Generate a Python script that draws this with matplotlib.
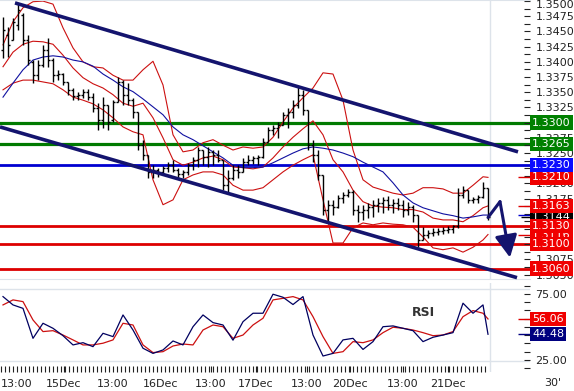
import numpy as np
import matplotlib
matplotlib.use('Agg')
import matplotlib.pyplot as plt
import matplotlib.transforms as mtransforms
from matplotlib.ticker import MultipleLocator, FormatStrFormatter, FuncFormatter

# --- precio (barras OHLC) ---
bar_high = [
    1.3474, 1.3458, 1.3472, 1.3497, 1.3481, 1.3444, 1.3403, 1.3403, 1.3428, 1.3439,
    1.3407, 1.3387, 1.3382, 1.3367, 1.3357, 1.3351, 1.3356, 1.3356, 1.3349, 1.3332,
    1.3343, 1.3329, 1.3337, 1.3375, 1.3370, 1.3365, 1.3341, 1.3318, 1.3272, 1.3247,
    1.3230, 1.3226, 1.3229, 1.3235, 1.3239, 1.3226, 1.3222, 1.3234, 1.3244, 1.3260,
    1.3255, 1.3260, 1.3255, 1.3255, 1.3239, 1.3222, 1.3230, 1.3230, 1.3242, 1.3247,
    1.3245, 1.3247, 1.3275, 1.3293, 1.3296, 1.3301, 1.3318, 1.3324, 1.3337, 1.3359,
    1.3354, 1.3321, 1.3272, 1.3255, 1.3214, 1.3173, 1.3173, 1.3181, 1.3186, 1.3191,
    1.3189, 1.3165, 1.3165, 1.3168, 1.3173, 1.3176, 1.3178, 1.3180, 1.3175, 1.3176,
    1.3173, 1.3170, 1.3165, 1.3148, 1.3129, 1.3124, 1.3127, 1.3127, 1.3129, 1.3130,
    1.3132, 1.3193, 1.3196, 1.3189, 1.3178, 1.3181, 1.3203, 1.3193]
bar_low = [
    1.3407, 1.3408, 1.3436, 1.3453, 1.3428, 1.3395, 1.3365, 1.3370, 1.3392, 1.3392,
    1.3367, 1.3370, 1.3362, 1.3346, 1.3337, 1.3337, 1.3341, 1.3337, 1.3318, 1.3288,
    1.3291, 1.3288, 1.3301, 1.3334, 1.3329, 1.3329, 1.3308, 1.3255, 1.3239, 1.3209,
    1.3209, 1.3211, 1.3214, 1.3219, 1.3219, 1.3209, 1.3209, 1.3214, 1.3222, 1.3227,
    1.3230, 1.3227, 1.3230, 1.3235, 1.3189, 1.3186, 1.3206, 1.3209, 1.3219, 1.3230,
    1.3232, 1.3230, 1.3242, 1.3268, 1.3280, 1.3275, 1.3296, 1.3291, 1.3308, 1.3324,
    1.3313, 1.3255, 1.3235, 1.3206, 1.3148, 1.3137, 1.3148, 1.3160, 1.3168, 1.3178,
    1.3148, 1.3137, 1.3140, 1.3143, 1.3145, 1.3153, 1.3152, 1.3157, 1.3152, 1.3157,
    1.3145, 1.3148, 1.3137, 1.3096, 1.3107, 1.3110, 1.3114, 1.3115, 1.3117, 1.3119,
    1.3119, 1.3127, 1.3176, 1.3168, 1.3168, 1.3168, 1.3176, 1.3140]
bar_open = [
    1.3420, 1.3444, 1.3436, 1.3461, 1.3477, 1.3436, 1.3400, 1.3379, 1.3395, 1.3420,
    1.3403, 1.3379, 1.3380, 1.3367, 1.3354, 1.3344, 1.3346, 1.3351, 1.3343, 1.3324,
    1.3305, 1.3329, 1.3305, 1.3334, 1.3367, 1.3346, 1.3337, 1.3318, 1.3263, 1.3247,
    1.3219, 1.3222, 1.3219, 1.3226, 1.3230, 1.3222, 1.3216, 1.3219, 1.3230, 1.3239,
    1.3255, 1.3244, 1.3252, 1.3247, 1.3239, 1.3198, 1.3209, 1.3222, 1.3219, 1.3235,
    1.3239, 1.3242, 1.3244, 1.3268, 1.3288, 1.3291, 1.3296, 1.3313, 1.3318, 1.3329,
    1.3346, 1.3321, 1.3263, 1.3247, 1.3214, 1.3157, 1.3165, 1.3161, 1.3176, 1.3181,
    1.3186, 1.3157, 1.3153, 1.3157, 1.3161, 1.3165, 1.3168, 1.3173, 1.3165, 1.3168,
    1.3165, 1.3157, 1.3161, 1.3148, 1.3107, 1.3115, 1.3119, 1.3120, 1.3122, 1.3124,
    1.3125, 1.3130, 1.3181, 1.3189, 1.3173, 1.3175, 1.3178, 1.3193]
bar_close = [
    1.3453, 1.3428, 1.3466, 1.3486, 1.3436, 1.3403, 1.3379, 1.3395, 1.3420, 1.3403,
    1.3379, 1.3380, 1.3367, 1.3354, 1.3344, 1.3346, 1.3351, 1.3343, 1.3324, 1.3305,
    1.3329, 1.3301, 1.3334, 1.3367, 1.3346, 1.3337, 1.3318, 1.3263, 1.3247, 1.3219,
    1.3222, 1.3219, 1.3226, 1.3230, 1.3222, 1.3216, 1.3219, 1.3230, 1.3239, 1.3255,
    1.3244, 1.3252, 1.3247, 1.3239, 1.3198, 1.3209, 1.3222, 1.3219, 1.3235, 1.3239,
    1.3242, 1.3244, 1.3268, 1.3288, 1.3291, 1.3296, 1.3313, 1.3318, 1.3329, 1.3346,
    1.3321, 1.3263, 1.3247, 1.3214, 1.3157, 1.3165, 1.3161, 1.3176, 1.3181, 1.3186,
    1.3157, 1.3153, 1.3157, 1.3161, 1.3165, 1.3168, 1.3173, 1.3165, 1.3168, 1.3165,
    1.3157, 1.3161, 1.3148, 1.3107, 1.3115, 1.3119, 1.3120, 1.3122, 1.3124, 1.3125,
    1.3130, 1.3181, 1.3189, 1.3173, 1.3175, 1.3178, 1.3193, 1.3144]

# --- indicadores (muestreados cada 2 barras + ultima barra) ---
band_idx = list(range(0, 97, 2)) + [97]
boll_upper = [
    1.3428, 1.3466, 1.3489, 1.3499, 1.3500, 1.3495, 1.3456, 1.3423, 1.3400, 1.3392,
    1.3390, 1.3378, 1.3370, 1.3370, 1.3387, 1.3401, 1.3362, 1.3280, 1.3252, 1.3255,
    1.3267, 1.3272, 1.3263, 1.3255, 1.3260, 1.3258, 1.3260, 1.3276, 1.3301, 1.3324,
    1.3341, 1.3357, 1.3382, 1.3380, 1.3337, 1.3255, 1.3206, 1.3194, 1.3189, 1.3184,
    1.3181, 1.3184, 1.3193, 1.3193, 1.3191, 1.3184, 1.3184, 1.3197, 1.3211, 1.3210]
boll_mid = [
    1.3392, 1.3416, 1.3429, 1.3434, 1.3433, 1.3429, 1.3411, 1.3390, 1.3374, 1.3364,
    1.3357, 1.3346, 1.3332, 1.3327, 1.3332, 1.3308, 1.3275, 1.3239, 1.3230, 1.3235,
    1.3242, 1.3245, 1.3239, 1.3227, 1.3226, 1.3224, 1.3227, 1.3242, 1.3260, 1.3276,
    1.3290, 1.3303, 1.3280, 1.3239, 1.3219, 1.3189, 1.3170, 1.3163, 1.3161, 1.3160,
    1.3157, 1.3157, 1.3153, 1.3143, 1.3140, 1.3140, 1.3137, 1.3147, 1.3160, 1.3163]
boll_lower = [
    1.3354, 1.3365, 1.3370, 1.3370, 1.3367, 1.3364, 1.3354, 1.3342, 1.3337, 1.3331,
    1.3321, 1.3308, 1.3293, 1.3285, 1.3280, 1.3206, 1.3165, 1.3173, 1.3206, 1.3214,
    1.3219, 1.3219, 1.3214, 1.3197, 1.3189, 1.3189, 1.3193, 1.3206, 1.3219, 1.3230,
    1.3239, 1.3247, 1.3173, 1.3102, 1.3102, 1.3127, 1.3135, 1.3132, 1.3135, 1.3133,
    1.3132, 1.3128, 1.3112, 1.3094, 1.3091, 1.3094, 1.3087, 1.3095, 1.3107, 1.3116]
moving_avg = [
    1.3342, 1.3365, 1.3387, 1.3403, 1.3408, 1.3410, 1.3408, 1.3403, 1.3400, 1.3393,
    1.3380, 1.3370, 1.3359, 1.3351, 1.3339, 1.3326, 1.3313, 1.3293, 1.3280, 1.3272,
    1.3262, 1.3252, 1.3242, 1.3230, 1.3226, 1.3226, 1.3227, 1.3234, 1.3242, 1.3250,
    1.3257, 1.3260, 1.3258, 1.3255, 1.3250, 1.3244, 1.3235, 1.3227, 1.3219, 1.3201,
    1.3181, 1.3168, 1.3160, 1.3155, 1.3150, 1.3147, 1.3143, 1.3145, 1.3148, 1.3148]
rsi = [
    73.0, 66.7, 64.1, 41.4, 52.8, 49.0, 43.4, 36.4, 38.1, 35.1,
    45.2, 42.7, 59.1, 47.7, 33.9, 30.0, 32.6, 39.4, 36.4, 50.2,
    59.1, 53.3, 51.5, 40.0, 54.0, 60.4, 60.4, 74.8, 72.5, 67.0,
    73.0, 43.9, 28.0, 30.0, 40.2, 41.4, 33.0, 38.9, 50.2, 50.8,
    49.0, 47.2, 38.9, 42.2, 43.9, 45.7, 68.0, 60.4, 66.7, 44.48]
rsi_signal = [
    66.7, 70.5, 69.2, 55.3, 46.5, 47.2, 43.9, 40.2, 36.4, 36.4,
    37.7, 40.2, 52.8, 51.5, 36.4, 30.6, 31.3, 35.6, 37.1, 36.4,
    47.7, 51.5, 50.2, 41.4, 43.9, 51.5, 56.6, 70.5, 71.7, 73.0,
    70.5, 57.8, 42.7, 30.0, 31.3, 38.9, 38.1, 40.2, 45.7, 49.8,
    49.0, 47.7, 45.7, 43.4, 43.9, 46.5, 57.8, 62.4, 60.4, 56.06]

# --- niveles y lineas de tendencia ---
green_levels = [1.3300, 1.3265]
blue_levels = [1.3230]
red_levels = [1.3130, 1.3100, 1.3060]
channel_upper_x = [2.4, 103.0]
channel_upper_y = [1.3497, 1.3252]
channel_lower_x = [-0.6, 102.8]
channel_lower_y = [1.3293, 1.3045]
projection_x = [97, 99.4, 101.4]
projection_y = [1.3144, 1.3170, 1.3078]

time_labels = ['13:00', '15Dec', '13:00', '16Dec', '13:00', '17Dec',
               '13:00', '20Dec', '13:00', '21Dec']
time_label_pos = [2.8, 12.2, 22, 31.6, 41.6, 50.6, 60.8, 69.4, 80, 89]

GREEN = '#007a00'
BLUE = '#0000d0'
RED = '#dd0000'
NAVY = '#14146e'
GRID = '#dde3ea'
TXT = '#222222'

W, H = 574, 391
fig = plt.figure(figsize=(W / 100, H / 100), dpi=100)
ax = fig.add_axes([0, 1 - 279 / H, 530 / W, 279 / H])
ax_rsi = fig.add_axes([0, 1 - 372 / H, 530 / W, 89 / H], sharex=ax)

idx = np.arange(len(bar_close))

# niveles horizontales
for lv in green_levels:
    ax.axhline(lv, color=GREEN, lw=2.3, zorder=1)
for lv in blue_levels:
    ax.axhline(lv, color=BLUE, lw=2.0, zorder=1)
for lv in red_levels:
    ax.axhline(lv, color=RED, lw=2.0, zorder=1)

# bandas de Bollinger y media movil
ax.plot(band_idx, boll_upper, color='#cc1010', lw=0.8, zorder=2)
ax.plot(band_idx, boll_mid, color='#cc1010', lw=0.8, zorder=2)
ax.plot(band_idx, boll_lower, color='#cc1010', lw=0.8, zorder=2)
ax.plot(band_idx, moving_avg, color='#1010a0', lw=0.8, zorder=2)

# barras OHLC
ax.vlines(idx, bar_low, bar_high, color='black', lw=1.0, zorder=3)
ax.hlines(bar_open, idx - 0.4, idx, color='black', lw=1.0, zorder=3)
ax.hlines(bar_close, idx, idx + 0.4, color='black', lw=1.0, zorder=3)

# canal bajista
ax.plot(channel_upper_x, channel_upper_y, color=NAVY, lw=2.6, zorder=4,
        solid_capstyle='butt', clip_on=False)
ax.plot(channel_lower_x, channel_lower_y, color=NAVY, lw=2.6, zorder=4,
        solid_capstyle='butt', clip_on=False)

# proyeccion
ax.plot(projection_x[:2], projection_y[:2], color=NAVY, lw=2.2, zorder=5,
        solid_capstyle='round')
ax.annotate('', xy=(projection_x[2], projection_y[2]),
            xytext=(projection_x[1], projection_y[1]),
            arrowprops=dict(arrowstyle='-|>,head_width=0.45,head_length=0.9',
                            color=NAVY, lw=2.2, mutation_scale=15,
                            shrinkA=0, shrinkB=0),
            zorder=5)

ax.axvline(idx[-1] + 0.4, color=GRID, lw=1, zorder=0)
ax_rsi.axvline(idx[-1] + 0.4, color=GRID, lw=1, zorder=0)

ax.set_xlim(-0.6, 105.4)
ax.set_ylim(1.30428, 1.35018)

for s in ['left', 'right']:
    ax.spines[s].set_visible(False)
for s in ['top', 'bottom']:
    ax.spines[s].set_color(GRID)
ax.tick_params(axis='x', which='both', length=0, labelbottom=False)
ax.yaxis.tick_right()
ax.yaxis.set_major_locator(MultipleLocator(0.0025))
ax.yaxis.set_minor_locator(MultipleLocator(0.00125))
top_label = 1.3500
# la etiqueta superior se coloca aparte para que no quede cortada
ax.yaxis.set_major_formatter(
    FuncFormatter(lambda v, p: '' if abs(v - top_label) < 1e-6 else '%.4f' % v))
ax.tick_params(axis='y', which='both', direction='in', length=4, width=0.8,
               color=TXT, labelsize=8, labelcolor=TXT, pad=4)
shift = mtransforms.ScaledTranslation(4 / 72, 0, fig.dpi_scale_trans)
ax.text(1.0, 1.0, '%.4f' % top_label, transform=ax.transAxes + shift,
        ha='left', va='top', fontsize=8, color=TXT, clip_on=False)


def tag(axis, value, fmt, bg, z):
    axis.text(1.004, value, fmt % value, transform=axis.get_yaxis_transform(),
              ha='left', va='center', color='white', fontsize=8, zorder=z,
              clip_on=False,
              bbox=dict(boxstyle='square,pad=0.2', fc=bg, ec='none'))


# marcas cortas de los indicadores
ax.hlines([boll_upper[-1], boll_mid[-1], boll_lower[-1]], 103, 105.4,
          color=RED, lw=1, clip_on=False, zorder=3)
ax.hlines([moving_avg[-1]], 103, 105.4, color=BLUE, lw=1, clip_on=False, zorder=3)
ax.hlines([bar_close[-1]], 103.6, 105.4, color='black', lw=1, clip_on=False, zorder=3)

tag(ax, boll_lower[-1], '%.4f', '#f00000', 6)
tag(ax, bar_close[-1], '%.4f', '#000000', 6)
tag(ax, boll_mid[-1], '%.4f', '#f00000', 7)
tag(ax, boll_upper[-1], '%.4f', '#f00000', 7)
for lv in green_levels:
    tag(ax, lv, '%.4f', '#008000', 8)
for lv in blue_levels:
    tag(ax, lv, '%.4f', '#0a0aff', 8)
for lv in red_levels:
    tag(ax, lv, '%.4f', '#f00000', 8)

# --- panel RSI ---
ax_rsi.plot(band_idx, rsi_signal, color='#cc1010', lw=0.9, zorder=2)
ax_rsi.plot(band_idx, rsi, color='#000060', lw=0.9, zorder=3)
ax_rsi.axhline(78.8, color=GRID, lw=1, zorder=0)
ax_rsi.axhline(24.2, color=GRID, lw=1, zorder=0)
ax_rsi.text(84, 60.6, 'RSI', color='#333333', fontsize=9, fontweight='bold',
            ha='center', va='center')
ax_rsi.hlines([rsi_signal[-1]], 103, 105.4, color=RED, lw=1, clip_on=False)
ax_rsi.hlines([rsi[-1]], 103, 105.4, color='#000080', lw=1, clip_on=False)
tag(ax_rsi, rsi_signal[-1], '%.2f', '#f00000', 7)
tag(ax_rsi, rsi[-1], '%.2f', '#000080', 7)

ax_rsi.set_ylim(15.9, 83.3)
for s in ax_rsi.spines.values():
    s.set_visible(False)
ax_rsi.yaxis.tick_right()
ax_rsi.set_yticks([25, 75])
ax_rsi.yaxis.set_minor_locator(MultipleLocator(6.25))
ax_rsi.yaxis.set_major_formatter(FormatStrFormatter('%.2f'))
ax_rsi.tick_params(axis='y', which='both', direction='in', length=4, width=0.8,
                   color=TXT, labelsize=8, labelcolor=TXT, pad=4)

ax_rsi.set_xticks(time_label_pos)
ax_rsi.set_xticklabels(time_labels)
ax_rsi.set_xticks(np.arange(-0.4, idx[-1], 0.8), minor=True)
ax_rsi.tick_params(axis='x', which='both', direction='in', length=4, width=0.8,
                   color=TXT, labelsize=8, labelcolor=TXT, pad=5)

fig.text(553 / W, 1 - 383 / H, "30'", fontsize=8, color=TXT,
         ha='center', va='center')

fig.savefig('out.png', dpi=100)
